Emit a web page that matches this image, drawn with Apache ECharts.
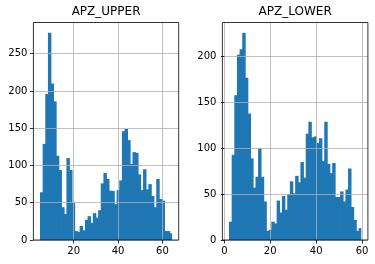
<!DOCTYPE html>
<html><head><meta charset="utf-8">
<script src="https://cdn.jsdelivr.net/npm/echarts@6/dist/echarts.min.js"></script>
<style>html,body{margin:0;padding:0;background:#fff}#c{width:375px;height:264px}</style>
</head><body><div id="c"></div>
<script>
// ---- data ----
const titles = ['APZ_UPPER', 'APZ_LOWER'];
const upperCounts = [64,129,196,278,210,186,113,94,44,35,110,94,50,12,11,19,13,27,32,23,36,30,40,76,90,82,66,66,48,67,80,146,149,134,102,118,117,88,67,95,68,75,59,44,82,55,53,12,12,9];
const lowerCounts = [20,93,158,202,208,226,177,138,89,57,69,100,69,42,10,11,20,18,43,30,48,33,50,64,51,70,63,85,68,116,129,112,113,106,111,86,129,83,73,84,47,47,53,42,55,78,36,22,10,13];
const upperRange = [4.79, 64.38];   // histogram bin range (data units)
const lowerRange = [2.05, 59.67];
const upperXTicks = [20, 40, 60];
const lowerXTicks = [0, 20, 40, 60];
const upperYTicks = [0, 50, 100, 150, 200, 250];
const lowerYTicks = [0, 50, 100, 150, 200];

function bins(counts, range) {
  const n = counts.length, w = (range[1] - range[0]) / n;
  return counts.map((c, i) => [range[0] + i * w, range[0] + (i + 1) * w, c, i === n - 1 ? 1 : 0]);
}
function padRange(range) { const m = (range[1] - range[0]) * 0.05; return [range[0] - m, range[1] + m]; }

const font = 'DejaVu Sans';
const uX = padRange(upperRange), lX = padRange(lowerRange);
const uMax = Math.max(...upperCounts) * 1.05, lMax = Math.max(...lowerCounts) * 1.05;

function axis(idx, min, max, ticks) {
  return { type: 'value', gridIndex: idx, min: min, max: max, z: 5,
    axisLine: { show: false },
    axisTick: { show: true, length: 3.5, lineStyle: { color: '#000', width: 0.8 }, customValues: ticks },
    axisLabel: { show: true, margin: 6, color: '#000', fontFamily: font, fontSize: 10, customValues: ticks, formatter: v => String(v) },
    splitLine: { show: false } };
}
function renderItem(params, api) {
  const a = api.coord([api.value(0), 0]);
  const b = api.coord([api.value(1), api.value(2)]);
  const overlap = api.value(3) ? 0 : 0.8; // hide anti-alias seams between adjacent bins
  return { type: 'rect', shape: { x: a[0], y: b[1], width: b[0] - a[0] + overlap, height: a[1] - b[1] },
    style: { fill: '#1f77b4', stroke: null, lineWidth: 0 } };
}
function gridLines(xt, yt) {
  return { silent: true, symbol: ['none', 'none'], label: { show: false },
    lineStyle: { color: '#b0b0b0', width: 0.8, type: 'solid' }, emphasis: { disabled: true },
    data: xt.map(v => ({ xAxis: v })).concat(yt.map(v => ({ yAxis: v }))) };
}

const chart = echarts.init(document.getElementById('c'), null, { renderer: 'canvas' });
chart.setOption({
  animation: false,
  grid: [
    { left: 33.4, top: 22.5, width: 145.3, height: 217.5, show: true, borderColor: '#000', borderWidth: 0.8, backgroundColor: 'transparent', z: 6 },
    { left: 222.4, top: 22.5, width: 145.5, height: 217.5, show: true, borderColor: '#000', borderWidth: 0.8, backgroundColor: 'transparent', z: 6 }
  ],
  xAxis: [axis(0, uX[0], uX[1], upperXTicks), axis(1, lX[0], lX[1], lowerXTicks)],
  yAxis: [axis(0, 0, uMax, upperYTicks), axis(1, 0, lMax, lowerYTicks)],
  graphic: [
    { type: 'text', x: 33.4 + 145.3 / 2, y: 6, style: { text: titles[0], fill: '#000', font: '12px "DejaVu Sans"', textAlign: 'center' } },
    { type: 'text', x: 222.4 + 145.5 / 2, y: 6, style: { text: titles[1], fill: '#000', font: '12px "DejaVu Sans"', textAlign: 'center' } }
  ],
  series: [
    { type: 'custom', xAxisIndex: 0, yAxisIndex: 0, renderItem, encode: { x: [0, 1], y: 2 }, data: bins(upperCounts, upperRange),
      markLine: gridLines(upperXTicks, upperYTicks) },
    { type: 'custom', xAxisIndex: 1, yAxisIndex: 1, renderItem, encode: { x: [0, 1], y: 2 }, data: bins(lowerCounts, lowerRange),
      markLine: gridLines(lowerXTicks, lowerYTicks) }
  ]
});
</script></body></html>
